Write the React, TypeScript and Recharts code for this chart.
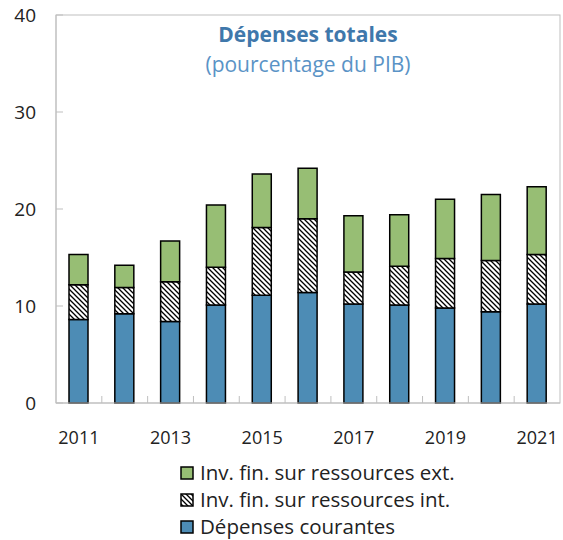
import { BarChart, Bar, XAxis, YAxis, Legend, Customized } from 'recharts';

const years = ['2011', '2012', '2013', '2014', '2015', '2016', '2017', '2018', '2019', '2020', '2021'];
const courantes = [8.6, 9.2, 8.4, 10.1, 11.1, 11.4, 10.2, 10.1, 9.8, 9.4, 10.2];
const invInt = [3.6, 2.7, 4.1, 3.9, 7.0, 7.6, 3.3, 4.0, 5.1, 5.3, 5.1];
const invExt = [3.1, 2.3, 4.2, 6.4, 5.5, 5.2, 5.8, 5.3, 6.1, 6.8, 7.0];
const yTicks = [0, 10, 20, 30, 40];

const data = years.map((year, i) => ({
  year,
  courantes: courantes[i],
  invInt: invInt[i],
  invExt: invExt[i],
}));

const W = 563;
const H = 540;
const TOP = 15;
const BOTTOM = 137;
const LEFT = 56;
const RIGHT = 3;
const PLOT_W = W - LEFT - RIGHT;
const PLOT_H = H - TOP - BOTTOM;
const BAND = PLOT_W / years.length;

const FONT = '"Open Sans", sans-serif';
const AXIS = '#bfbfbf';
const BLUE = '#4d8cb5';
const GREEN = '#97be74';

const legendItems = [
  { label: 'Inv. fin. sur ressources ext.', fill: GREEN },
  { label: 'Inv. fin. sur ressources int.', fill: 'url(#lg-hatch)' },
  { label: 'Dépenses courantes', fill: BLUE },
];

function XTick({ x, y, payload, index }: any) {
  const edge = x - BAND / 2;
  return (
    <g>
      {index > 0 && <line x1={edge} x2={edge} y1={y} y2={y - 7} stroke={AXIS} />}
      {index % 2 === 0 && (
        <text x={x} y={y + 41} textAnchor="middle" fill="#222" fontSize={18} fontFamily={FONT}>
          {payload.value}
        </text>
      )}
    </g>
  );
}

// plot frame + title block
function Overlay() {
  const cx = LEFT + PLOT_W / 2;
  return (
    <g fontFamily={FONT}>
      <rect x={LEFT} y={TOP} width={PLOT_W} height={PLOT_H} fill="none" stroke={AXIS} />
      <text x={cx} y={42} textAnchor="middle" fontSize={21} fontWeight="bold" fill="#3f78ab">
        Dépenses totales
      </text>
      <text x={cx} y={72} textAnchor="middle" fontSize={21} fill="#5a93c6">
        (pourcentage du PIB)
      </text>
    </g>
  );
}

function LegendBox() {
  return (
    <div style={{ fontFamily: FONT, fontSize: 20.5, color: '#222', lineHeight: '27px' }}>
      {legendItems.map(item => (
        <div key={item.label} style={{ display: 'flex', alignItems: 'center', height: 27 }}>
          <svg width={14} height={14} style={{ marginRight: 6 }}>
            <defs>
              <pattern id="lg-hatch" patternUnits="userSpaceOnUse" width={5} height={5}>
                <rect width={5} height={5} fill="#fff" />
                <path d="M0,0 L5,5 M-1,4 L1,6 M4,-1 L6,1" stroke="#000" strokeWidth={1.3} />
              </pattern>
            </defs>
            <rect x={1} y={1} width={12} height={12} fill={item.fill} stroke="#000" strokeWidth={1.5} />
          </svg>
          <span>{item.label}</span>
        </div>
      ))}
    </div>
  );
}

export default function App() {
  return (
    <div style={{ position: 'absolute', left: 0, top: 0, width: W, height: H, background: '#fff' }}>
      <BarChart width={W} height={H} data={data} margin={{ top: TOP, right: RIGHT, left: 0, bottom: BOTTOM - 40 }}>
        <defs>
          <pattern id="hatch" patternUnits="userSpaceOnUse" width={5} height={5}>
            <rect width={5} height={5} fill="#fff" />
            <path d="M0,0 L5,5 M-1,4 L1,6 M4,-1 L6,1" stroke="#000" strokeWidth={1.3} />
          </pattern>
        </defs>
        <XAxis
          dataKey="year"
          height={40}
          interval={0}
          tickLine={false}
          tickSize={0}
          tickMargin={0}
          tick={<XTick />}
          axisLine={{ stroke: AXIS }}
        />
        <YAxis
          domain={[0, 40]}
          ticks={yTicks}
          width={LEFT}
          tickSize={-7}
          tickMargin={27}
          tickLine={{ stroke: AXIS }}
          axisLine={{ stroke: AXIS }}
          tick={{ fill: '#222', fontSize: 19, fontFamily: FONT }}
        />
        <Legend
          layout="horizontal"
          verticalAlign="middle"
          align="center"
          wrapperStyle={{ top: 459, left: 180, width: 383, height: 81 }}
          content={<LegendBox />}
        />
        <Bar dataKey="courantes" stackId="a" fill={BLUE} stroke="#000" strokeWidth={1.5} barSize={19} isAnimationActive={false} />
        <Bar dataKey="invInt" stackId="a" fill="url(#hatch)" stroke="#000" strokeWidth={1.5} barSize={19} isAnimationActive={false} />
        <Bar dataKey="invExt" stackId="a" fill={GREEN} stroke="#000" strokeWidth={1.5} barSize={19} isAnimationActive={false} />
        <Customized component={<Overlay />} />
      </BarChart>
    </div>
  );
}
